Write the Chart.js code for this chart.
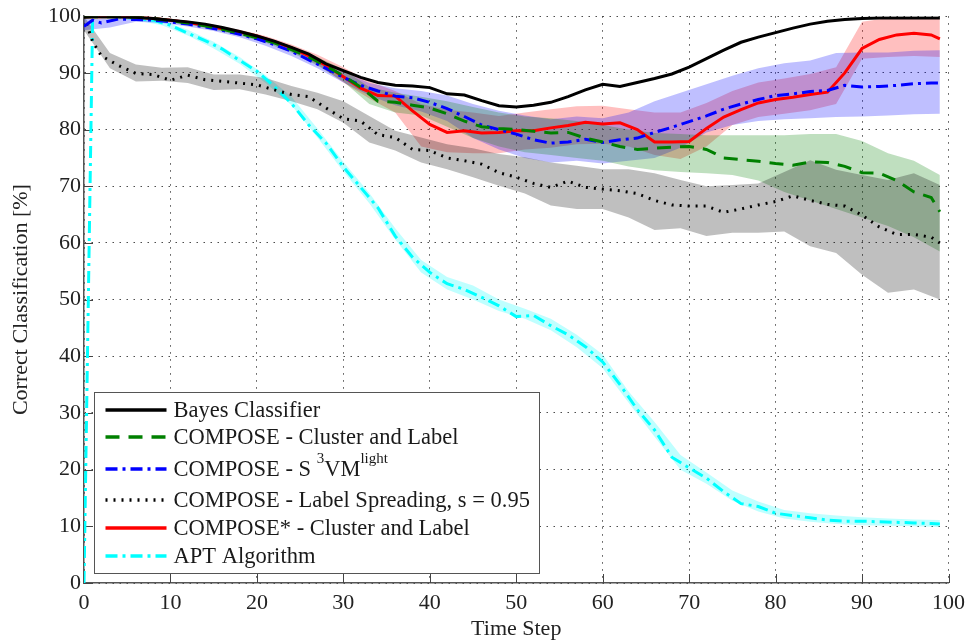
<!DOCTYPE html>
<html>
<head>
<meta charset="utf-8">
<script src="https://cdn.jsdelivr.net/npm/chart.js@4.4.1/dist/chart.umd.min.js"></script>
<style>
  html, body { margin: 0; padding: 0; background: #fff; }
  #wrap { width: 972px; height: 644px; }
</style>
</head>
<body>
<div id="wrap"><canvas id="chart" width="972" height="644"></canvas></div>
<script>
// Time steps used by the mean curves
const timeSteps = [0, 1, 2, 4, 6, 8, 10, 12, 14, 16, 18, 20, 22, 24, 26, 28, 30, 32, 34, 36, 38, 40, 42, 44, 46, 48,
  50, 52, 54, 56, 58, 60, 62, 64, 66, 68, 70, 72, 74, 76, 78, 80, 82, 84, 86, 88, 90, 92, 94, 96, 98, 99];

// Mean correct classification [%]
const bayes = [99.8, 99.9, 99.9, 99.9, 99.8, 99.6, 99.3, 99.0, 98.6, 98.0, 97.3, 96.5, 95.6, 94.5, 93.3, 91.6, 90.4, 89.2, 88.3, 87.8,
  87.7, 87.4, 86.3, 86.1, 85.1, 84.2, 84.0, 84.3, 84.8, 85.8, 87.0, 88.0, 87.6, 88.3, 89.0, 89.8, 91.0, 92.5, 94.0, 95.4,
  96.3, 97.1, 97.9, 98.6, 99.1, 99.4, 99.6, 99.7, 99.7, 99.7, 99.7, 99.7];
const clusterLabel = [99.9, 99.9, 99.9, 99.9, 99.8, 99.6, 99.2, 98.8, 98.3, 97.7, 97.0, 96.2, 95.3, 94.1, 92.8, 91.2, 89.5, 87.5, 85.0, 84.8,
  84.3, 83.8, 82.8, 81.5, 80.5, 80.2, 80.0, 79.7, 79.4, 79.5, 78.5, 77.8, 77.0, 76.5, 76.7, 76.9, 77.0, 76.5, 75.0, 74.7,
  74.4, 74.0, 73.7, 74.3, 74.2, 73.5, 72.4, 72.3, 71.0, 69.0, 68.0, 65.5];
const s3vm = [98.2, 99.3, 98.8, 99.5, 99.4, 99.3, 99.0, 98.6, 98.1, 97.5, 96.8, 96.0, 95.0, 93.8, 92.3, 90.8, 89.2, 87.8, 86.8, 85.9,
  85.6, 84.8, 83.7, 82.3, 80.8, 80.0, 79.2, 78.2, 77.6, 77.8, 78.3, 77.7, 78.2, 78.5, 79.5, 80.4, 81.4, 82.4, 83.6, 84.5,
  85.3, 86.0, 86.3, 86.7, 86.9, 87.8, 87.5, 87.6, 87.8, 88.1, 88.2, 88.2];
const labelSpreading = [100, 95.5, 93.0, 91.3, 89.9, 89.7, 88.7, 89.6, 88.8, 88.5, 88.2, 87.9, 87.0, 86.2, 85.8, 83.8, 81.9, 81.5, 79.1, 78.6,
  76.5, 76.3, 75.0, 74.5, 73.9, 72.4, 71.6, 70.5, 69.8, 70.9, 69.8, 69.5, 69.2, 68.7, 67.5, 66.7, 66.5, 66.5, 65.4, 66.0,
  66.7, 67.3, 68.3, 67.5, 66.8, 66.5, 64.9, 62.8, 61.5, 61.5, 61.0, 60.0];
const composeStar = [99.9, 99.9, 99.9, 99.9, 99.8, 99.6, 99.3, 98.9, 98.4, 97.8, 97.2, 96.5, 95.5, 94.4, 93.0, 91.3, 89.3, 87.3, 86.0, 85.9,
  83.3, 80.9, 79.5, 79.8, 79.4, 79.5, 79.8, 79.8, 80.3, 80.7, 81.3, 81.0, 81.2, 80.0, 77.8, 77.8, 77.9, 80.2, 82.2, 83.5,
  84.7, 85.3, 85.7, 86.2, 86.6, 90.0, 94.3, 95.9, 96.7, 97.0, 96.7, 96.0];
const apt = [0, 99.9, 99.9, 99.9, 99.6, 99.3, 98.4, 97.0, 95.7, 94.2, 92.2, 90.3, 87.6, 84.6, 80.8, 77.6, 73.4, 69.8, 66.2, 61.2,
  57.5, 54.8, 52.8, 51.8, 50.4, 48.9, 47.0, 47.2, 45.4, 43.8, 41.7, 39.0, 35.0, 30.6, 27.0, 22.2, 20.3, 18.5, 16.1, 14.0,
  13.5, 12.3, 11.9, 11.5, 11.1, 10.9, 10.9, 10.8, 10.7, 10.6, 10.5, 10.4];

// Time steps used by the spread bands
const bandSteps = [0, 3, 6, 9, 12, 15, 18, 21, 24, 27, 30, 33, 36, 39, 42, 45, 48, 51, 54, 57, 60, 63, 66, 69, 72, 75, 78, 81, 84, 87, 90, 93, 96, 99];

const spreadHi = [100, 93.5, 91.5, 90.9, 91.0, 89.7, 89.7, 89.1, 87.7, 86.5, 85.0, 82.4, 79.8, 78.6, 77.4, 76.7, 75.7, 75.1, 74.2, 73.6,
  73.0, 73.0, 72.3, 71.1, 70.0, 70.2, 70.5, 72.5, 74.6, 72.9, 72.0, 71.1, 72.3, 70.2];
const spreadLo = [97.5, 90.8, 88.5, 88.6, 88.2, 87.0, 87.1, 86.2, 85.0, 83.6, 81.2, 77.7, 76.3, 74.2, 73.0, 71.6, 70.1, 68.7, 66.6, 66.0,
  66.0, 64.5, 62.3, 62.6, 61.2, 61.8, 61.8, 62.0, 59.4, 58.2, 54.4, 51.2, 51.8, 50.0];
const clusterHi = [100, 100, 99.9, 99.6, 99.1, 98.3, 97.4, 96.2, 94.7, 92.8, 90.6, 87.5, 86.5, 85.8, 85.0, 84.0, 83.0, 82.3, 82.0, 81.5,
  80.8, 80.0, 79.4, 79.2, 79.0, 79.0, 79.0, 79.0, 79.2, 79.2, 78.0, 75.8, 74.5, 72.0];
const clusterLo = [99.7, 99.7, 99.6, 99.2, 98.6, 97.6, 96.6, 95.3, 93.6, 91.3, 88.5, 84.5, 83.0, 82.5, 80.5, 78.5, 77.0, 76.0, 75.5, 75.0,
  74.5, 73.5, 72.8, 72.5, 72.3, 72.0, 71.0, 69.0, 67.5, 66.0, 64.5, 63.0, 61.0, 58.5];
const starHi = [100, 100, 99.9, 99.6, 99.2, 98.5, 97.6, 96.5, 95.0, 93.2, 91.0, 88.5, 86.8, 84.5, 83.5, 83.0, 82.4, 83.0, 83.6, 84.1,
  84.2, 83.6, 83.0, 83.0, 84.7, 86.8, 88.3, 89.0, 89.8, 91.0, 99.0, 99.7, 99.8, 99.8];
const starLo = [99.6, 99.6, 99.6, 99.3, 98.7, 97.9, 96.9, 95.6, 93.8, 91.5, 88.3, 85.5, 83.0, 77.0, 76.0, 75.8, 75.8, 76.5, 76.8, 77.4,
  77.5, 77.0, 75.5, 74.8, 77.0, 80.8, 82.2, 82.8, 83.4, 84.5, 92.5, 92.8, 93.0, 92.8];
const s3vmHi = [99.5, 99.5, 99.7, 99.5, 99.1, 98.4, 97.4, 96.0, 94.4, 92.4, 90.2, 88.2, 87.3, 86.8, 86.0, 84.5, 83.3, 82.5, 81.8, 82.3,
  82.0, 83.0, 85.0, 86.5, 88.0, 89.5, 90.8, 91.7, 92.2, 93.5, 93.6, 93.6, 93.9, 94.0];
const s3vmLo = [97.5, 98.0, 99.0, 98.8, 98.2, 97.4, 96.3, 94.8, 93.0, 90.8, 88.3, 86.0, 84.3, 83.2, 81.5, 78.5, 76.5, 75.0, 74.2, 74.5,
  74.0, 74.5, 75.0, 76.8, 79.5, 80.8, 81.5, 81.8, 82.0, 82.2, 82.3, 82.5, 82.7, 82.8];
const aptHi = [100, 100, 99.9, 99.2, 97.6, 95.5, 92.8, 89.6, 85.8, 80.2, 74.3, 68.8, 62.6, 57.0, 54.0, 52.5, 50.0, 48.4, 46.6, 43.8,
  40.3, 33.8, 28.4, 22.6, 19.5, 16.3, 14.4, 12.9, 12.3, 11.9, 11.6, 11.4, 11.2, 11.1];
const aptLo = [99.6, 99.6, 99.3, 98.4, 96.6, 94.3, 91.6, 88.2, 84.3, 78.6, 72.6, 67.0, 60.6, 54.8, 51.8, 50.0, 48.0, 46.6, 44.6, 41.6,
  37.9, 31.8, 25.8, 20.0, 17.5, 14.5, 12.6, 11.4, 10.8, 10.4, 10.2, 10.1, 10.0, 9.9];

const axisTicks = [0, 10, 20, 30, 40, 50, 60, 70, 80, 90, 100];

const serif = '"Liberation Serif", "DejaVu Serif", serif';

const pts = (xs, ys) => xs.map((x, i) => ({ x: x, y: ys[i] }));

function lineSet(label, values, color, dash, width) {
  return {
    label: label, data: pts(timeSteps, values), borderColor: color, borderDash: dash,
    borderWidth: width, pointRadius: 0, fill: false, tension: 0, order: 1
  };
}

function bandSets(upper, lower, color) {
  return [
    { label: '', data: pts(bandSteps, upper), borderColor: 'rgba(0,0,0,0)', borderWidth: 0,
      backgroundColor: color, fill: '+1', pointRadius: 0, tension: 0, order: 5 },
    { label: '', data: pts(bandSteps, lower), borderColor: 'rgba(0,0,0,0)', borderWidth: 0,
      fill: false, pointRadius: 0, tension: 0, order: 5 }
  ];
}

const lines = [
  lineSet('Bayes Classifier', bayes, '#000000', [], 3),
  lineSet('COMPOSE - Cluster and Label', clusterLabel, '#008000', [14, 9], 3),
  lineSet('COMPOSE - S3VM', s3vm, '#0000ff', [12, 5, 3, 5], 3),
  lineSet('COMPOSE - Label Spreading, s = 0.95', labelSpreading, '#000000', [2, 6], 3),
  lineSet('COMPOSE* - Cluster and Label', composeStar, '#ff0000', [], 3),
  lineSet('APT Algorithm', apt, '#00ffff', [12, 5, 3, 5], 3)
];

const bands = [].concat(
  bandSets(spreadHi, spreadLo, 'rgba(0,0,0,0.25)'),
  bandSets(clusterHi, clusterLo, 'rgba(0,128,0,0.25)'),
  bandSets(s3vmHi, s3vmLo, 'rgba(0,0,255,0.25)'),
  bandSets(starHi, starLo, 'rgba(255,0,0,0.25)'),
  bandSets(aptHi, aptLo, 'rgba(0,255,255,0.25)')
);

// legend rows: text pieces, second value marks superscript
const legendRows = [
  [['Bayes Classifier', false]],
  [['COMPOSE - Cluster and Label', false]],
  [['COMPOSE - S ', false], ['3', true], ['VM', false], ['light', true]],
  [['COMPOSE - Label Spreading, s = 0.95', false]],
  [['COMPOSE* - Cluster and Label', false]],
  [['APT Algorithm', false]]
];
const legendRowY = [410, 437, 469, 500, 528, 556];

// small inward tick marks on both axes
const innerTicks = {
  id: 'innerTicks',
  beforeDatasetsDraw(chart) {
    const { ctx, scales, chartArea } = chart;
    ctx.save();
    ctx.strokeStyle = '#444';
    ctx.lineWidth = 1;
    axisTicks.forEach((v) => {
      const px = Math.round(scales.x.getPixelForValue(v)) + 0.5;
      ctx.beginPath();
      ctx.moveTo(px, chartArea.bottom);
      ctx.lineTo(px, chartArea.bottom - 9);
      ctx.stroke();
      const py = Math.round(scales.y.getPixelForValue(v)) + 0.5;
      ctx.beginPath();
      ctx.moveTo(chartArea.left, py);
      ctx.lineTo(chartArea.left + 9, py);
      ctx.stroke();
    });
    ctx.restore();
  }
};

// boxed legend drawn inside the plot, with superscripts
const boxLegend = {
  id: 'boxLegend',
  afterDatasetsDraw(chart) {
    const ctx = chart.ctx;
    const a = chart.chartArea;
    const bx = a.left + 10.5, by = 392.5, bw = 445, bh = 181;
    ctx.save();
    ctx.fillStyle = '#ffffff';
    ctx.fillRect(bx, by, bw, bh);
    ctx.strokeStyle = '#555';
    ctx.lineWidth = 1;
    ctx.strokeRect(bx, by, bw, bh);

    lines.forEach((ds, i) => {
      const y = legendRowY[i];
      ctx.save();
      ctx.strokeStyle = ds.borderColor;
      ctx.lineWidth = ds.borderWidth + 0.5;
      ctx.setLineDash(ds.borderDash);
      ctx.beginPath();
      ctx.moveTo(bx + 11, y);
      ctx.lineTo(bx + 72, y);
      ctx.stroke();
      ctx.restore();

      let tx = bx + 79;
      ctx.fillStyle = '#1a1a1a';
      ctx.textBaseline = 'middle';
      legendRows[i].forEach(([txt, sup]) => {
        ctx.font = (sup ? '15px ' : '22.5px ') + serif;
        ctx.fillText(txt, tx, sup ? y - 10 : y + 1);
        tx += ctx.measureText(txt).width;
      });
    });
    ctx.restore();
  }
};

new Chart(document.getElementById('chart'), {
  type: 'line',
  data: { datasets: lines.concat(bands) },
  options: {
    responsive: false,
    animation: false,
    layout: { padding: { top: 13, right: 18, left: 0, bottom: 0 } },
    plugins: {
      legend: { display: false },
      tooltip: { enabled: false }
    },
    scales: {
      x: {
        type: 'linear',
        min: 0,
        max: 100,
        afterFit: (scale) => { scale.height = 61; },
        ticks: { stepSize: 10, color: '#222', padding: 7, maxRotation: 0, font: { family: serif, size: 22 } },
        grid: { color: 'rgba(0,0,0,0.7)', lineWidth: 1, drawTicks: false },
        border: { display: true, color: '#555', width: 1.5, dash: [1.5, 5.5] },
        title: { display: true, text: 'Time Step', color: '#222', font: { family: serif, size: 22 }, padding: { top: 0, bottom: 2 } }
      },
      y: {
        min: 0,
        max: 100,
        afterFit: (scale) => { scale.width = 84; },
        ticks: { stepSize: 10, color: '#222', padding: 3, font: { family: serif, size: 22 } },
        grid: { color: 'rgba(0,0,0,0.7)', lineWidth: 1, drawTicks: false },
        border: { display: true, color: '#555', width: 1.5, dash: [1.5, 5.5] },
        title: { display: true, text: 'Correct Classification [%]', color: '#222', font: { family: serif, size: 22 }, padding: { top: 8, bottom: 0 } }
      }
    }
  },
  plugins: [innerTicks, boxLegend]
});
</script>
</body>
</html>
